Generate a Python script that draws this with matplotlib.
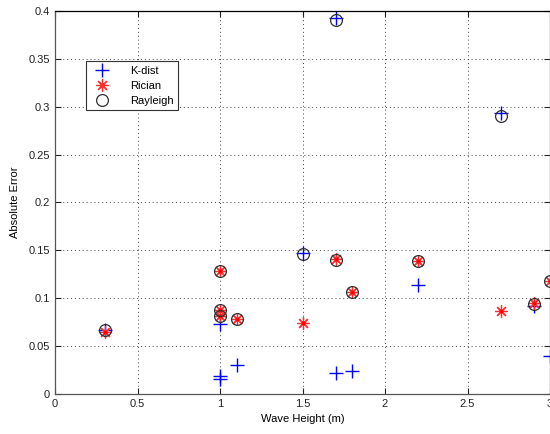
import numpy as np
import matplotlib
matplotlib.use("Agg")
import matplotlib.pyplot as plt

plt.rcParams['font.family'] = ['Liberation Sans', 'DejaVu Sans']
plt.rcParams['font.size'] = 8

# wave height (m) and absolute error per model
kdist_x = [0.3, 1.0, 1.0, 1.0, 1.1, 1.5, 1.7, 1.7, 1.8, 2.2, 2.7, 2.9, 3.0]
kdist_y = [0.067, 0.073, 0.019, 0.016, 0.030, 0.147, 0.393, 0.022, 0.024, 0.1135, 0.293, 0.092, 0.040]

rician_x = [0.3, 1.0, 1.0, 1.0, 1.1, 1.5, 1.7, 1.8, 2.2, 2.7, 2.9, 3.0]
rician_y = [0.065, 0.128, 0.088, 0.081, 0.078, 0.074, 0.141, 0.107, 0.139, 0.087, 0.095, 0.118]

rayleigh_x = [0.3, 1.0, 1.0, 1.0, 1.1, 1.5, 1.7, 1.7, 1.8, 2.2, 2.7, 2.9, 3.0]
rayleigh_y = [0.067, 0.128, 0.088, 0.081, 0.078, 0.1465, 0.390, 0.1395, 0.107, 0.1385, 0.290, 0.0945, 0.118]

fig = plt.figure(figsize=(5.5, 4.34), dpi=100)
ax = fig.add_axes([0.1, 0.092, 0.9, 0.883])

ax.plot(kdist_x, kdist_y, '+', color='#0000ff', markersize=10, markeredgewidth=1.0, label='K-dist')
ax.plot(rician_x, rician_y, marker=(8, 2, 0), linestyle='none', color='#ff3030', markersize=9,
        markeredgewidth=0.9, label='Rician')
ax.plot(rician_x, rician_y, '.', color='#ff0000', markersize=3)
ax.plot(rayleigh_x, rayleigh_y, 'o', color='#303030', markerfacecolor='none', markersize=8.5,
        markeredgewidth=0.9, label='Rayleigh')

ax.set_xlim(0, 3)
ax.set_ylim(0, 0.4)
ax.set_xticks(np.arange(0, 3.01, 0.5))
ax.set_xticklabels(['0', '0.5', '1', '1.5', '2', '2.5', '3'])
ax.set_yticks(np.arange(0, 0.401, 0.05))
ax.set_yticklabels(['0', '0.05', '0.1', '0.15', '0.2', '0.25', '0.3', '0.35', '0.4'])
ax.tick_params(direction='in', top=True, right=True, length=4, width=0.8, colors='#222222', labelsize=8)
ax.grid(True, linestyle=(0, (1, 3)), color='#444444', linewidth=0.7)
for s in ax.spines.values():
    s.set_color('#555555')
    s.set_linewidth(0.9)
ax.spines['top'].set_color('black')

ax.set_xlabel('Wave Height (m)', fontsize=8, labelpad=4)
ax.set_ylabel('Absolute Error', fontsize=8, labelpad=6)

leg = ax.legend(loc='upper left', bbox_to_anchor=(0.051, 0.883), fancybox=False, edgecolor='#333333',
                framealpha=1, fontsize=8, borderpad=0.4, labelspacing=0.45, handletextpad=1.4,
                handlelength=2.2)
leg.get_frame().set_linewidth(0.8)

fig.savefig('out.png', dpi=100)
